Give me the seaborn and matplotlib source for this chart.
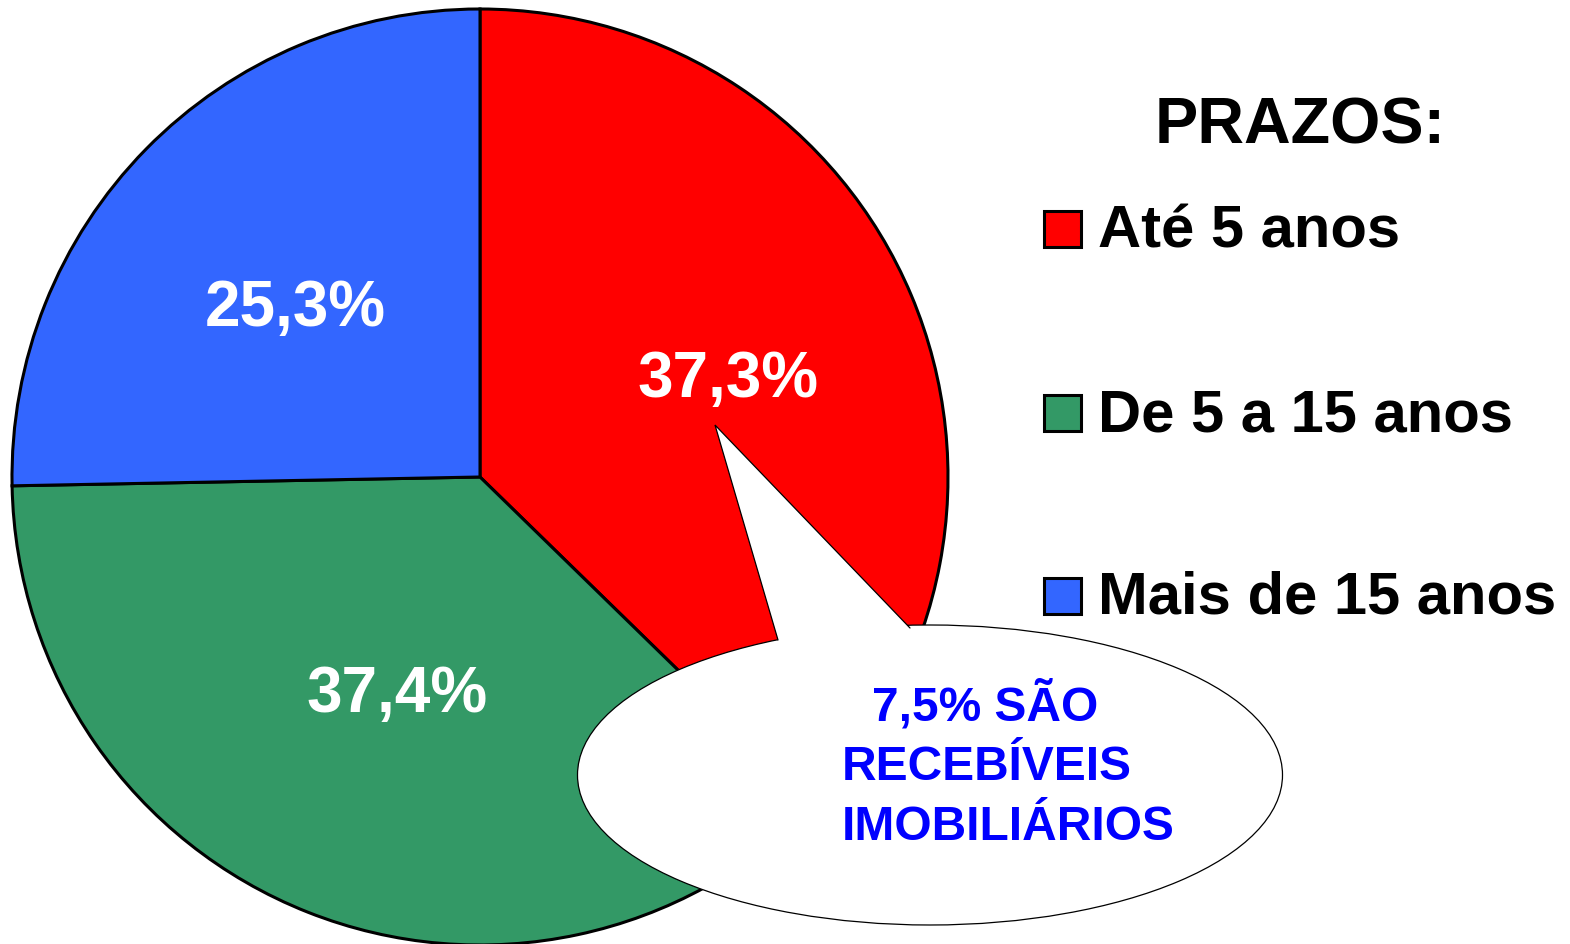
import matplotlib
matplotlib.use("Agg")
import matplotlib.pyplot as plt
import seaborn as sns
from matplotlib.patches import Ellipse, Polygon, Rectangle

# ---- data ----
categories = ["Até 5 anos", "De 5 a 15 anos", "Mais de 15 anos"]
values = [37.3, 37.4, 25.3]
value_labels = ["37,3%", "37,4%", "25,3%"]
colors = ["#FF0000", "#339966", "#3366FF"]
legend_title = "PRAZOS:"
callout_lines = ["7,5% SÃO", "RECEBÍVEIS", "IMOBILIÁRIOS"]

sns.set_theme(style="white")
plt.rcParams["font.family"] = ["Liberation Sans", "DejaVu Sans"]

W, H = 1570, 944
fig = plt.figure(figsize=(W / 100, H / 100), dpi=100)
ax = fig.add_axes([0, 0, 1, 1])


def Y(y):
    return H - y


# ---- pie ----
cx, cy, r = 480, 477, 468
wedges, _ = ax.pie(values, colors=colors, startangle=90, counterclock=False,
                   center=(cx, Y(cy)), radius=r, frame=True,
                   wedgeprops=dict(edgecolor="black", linewidth=2.2))
ax.set_xlim(0, W)
ax.set_ylim(0, H)
ax.set_aspect("auto")
ax.axis("off")

label_pos = [(728, 397), (397, 712), (295, 326)]
for (x, y), t in zip(label_pos, value_labels):
    ax.text(x, Y(y), t, color="white", fontsize=46, fontweight="bold",
            ha="center", va="baseline", zorder=5)

# ---- callout bubble ----
ell = Ellipse((930, Y(775)), 705, 300, facecolor="white", edgecolor="black",
              linewidth=0.9, zorder=6)
ax.add_patch(ell)
tip = (715, Y(425))
lb = (778, Y(640))
rb = (910, Y(628))
tail = Polygon([tip, lb, (785, Y(668)), (905, Y(660)), rb], closed=True,
               facecolor="white", edgecolor="none", zorder=7)
ax.add_patch(tail)
ax.plot([lb[0], tip[0], rb[0]], [lb[1], tip[1], rb[1]], color="black",
        linewidth=0.9, zorder=8, solid_joinstyle="miter")

callout_pos = [(985, 720, "center"), (842, 780, "left"), (842, 840, "left")]
for (x, y, ha), t in zip(callout_pos, callout_lines):
    ax.text(x, Y(y), t, color="#0000FF", fontsize=34.5, fontweight="bold",
            ha=ha, va="baseline", zorder=9)

# ---- legend ----
ax.text(1300, Y(143), legend_title, color="black", fontsize=46.5,
        fontweight="bold", ha="center", va="baseline")
baselines = [247, 431, 614]
for name, c, b in zip(categories, colors, baselines):
    ax.add_patch(Rectangle((1044, Y(b)), 37, 36, facecolor=c,
                           edgecolor="black", linewidth=2.2))
    ax.text(1098, Y(b), name, color="black", fontsize=43, fontweight="bold",
            ha="left", va="baseline")

fig.savefig("out.png", dpi=100, facecolor="white")
